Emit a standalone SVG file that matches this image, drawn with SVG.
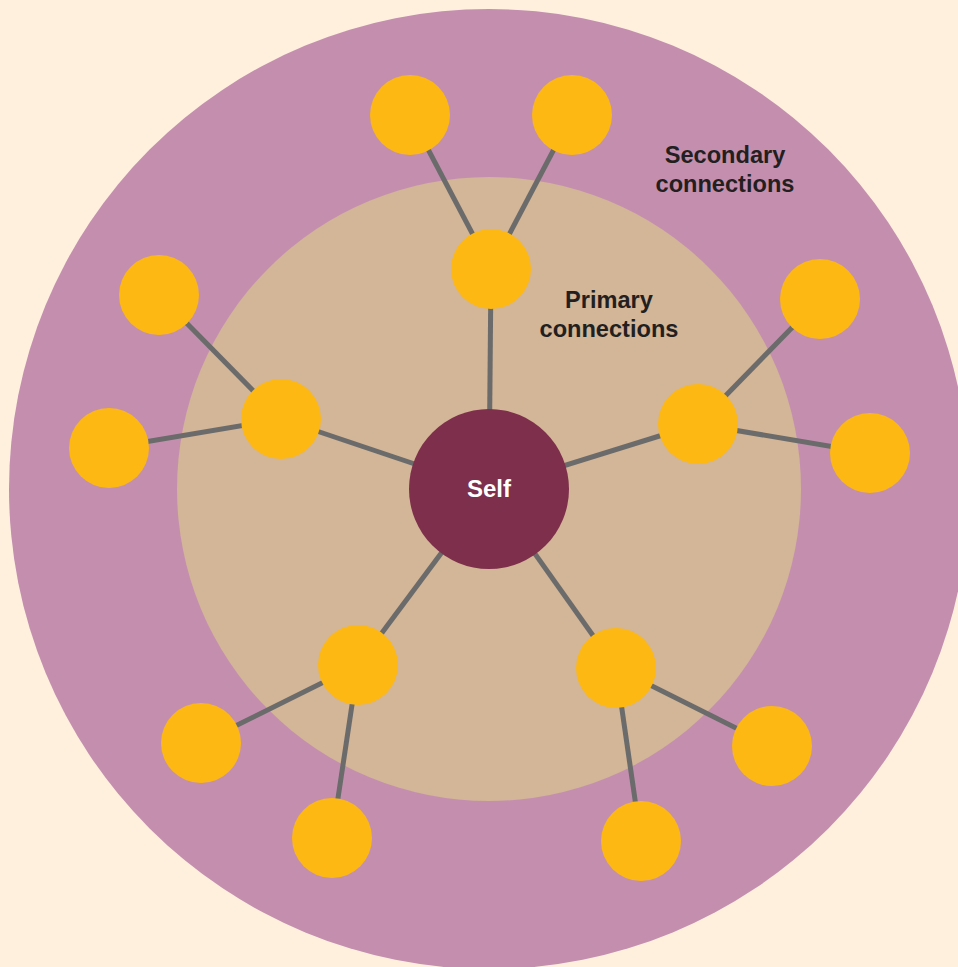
<svg xmlns="http://www.w3.org/2000/svg" width="958" height="967" viewBox="0 0 958 967">
<style>
.conn line{stroke:#6b6b6b;stroke-width:5}
.node{fill:#fdb813}
.lbl{font-family:"Liberation Sans",Arial,sans-serif;font-weight:bold;font-size:23.6px;fill:#231f20;text-anchor:middle}
</style>
<rect width="958" height="967" fill="#fff0de"/>
<g id="outer-ring"><circle cx="489" cy="489" r="480" fill="#c48faf"/></g>
<g id="inner-ring"><circle cx="489" cy="489" r="312" fill="#d3b597"/></g>
<g class="conn" id="connectors">
<line x1="489" y1="489" x2="491" y2="269"/>
<line x1="489" y1="489" x2="281" y2="419"/>
<line x1="489" y1="489" x2="698" y2="424"/>
<line x1="489" y1="489" x2="358" y2="665"/>
<line x1="489" y1="489" x2="616" y2="668"/>
<line x1="491" y1="269" x2="410" y2="115"/>
<line x1="491" y1="269" x2="572" y2="115"/>
<line x1="281" y1="419" x2="159" y2="295"/>
<line x1="281" y1="419" x2="109" y2="448"/>
<line x1="698" y1="424" x2="820" y2="299"/>
<line x1="698" y1="424" x2="870" y2="453"/>
<line x1="358" y1="665" x2="201" y2="743"/>
<line x1="358" y1="665" x2="332" y2="838"/>
<line x1="616" y1="668" x2="772" y2="746"/>
<line x1="616" y1="668" x2="641" y2="841"/>
</g>
<g id="self"><circle cx="489" cy="489" r="80" fill="#7d2f4b"/><text x="489" y="497" class="lbl" style="fill:#fff;font-size:24px">Self</text></g>
<g id="p-top"><circle class="node" cx="491" cy="269" r="40"/></g>
<g id="p-left"><circle class="node" cx="281" cy="419" r="40"/></g>
<g id="p-right"><circle class="node" cx="698" cy="424" r="40"/></g>
<g id="p-bl"><circle class="node" cx="358" cy="665" r="40"/></g>
<g id="p-br"><circle class="node" cx="616" cy="668" r="40"/></g>
<g id="s1"><circle class="node" cx="410" cy="115" r="40"/></g>
<g id="s2"><circle class="node" cx="572" cy="115" r="40"/></g>
<g id="s3"><circle class="node" cx="159" cy="295" r="40"/></g>
<g id="s4"><circle class="node" cx="109" cy="448" r="40"/></g>
<g id="s5"><circle class="node" cx="820" cy="299" r="40"/></g>
<g id="s6"><circle class="node" cx="870" cy="453" r="40"/></g>
<g id="s7"><circle class="node" cx="201" cy="743" r="40"/></g>
<g id="s8"><circle class="node" cx="332" cy="838" r="40"/></g>
<g id="s9"><circle class="node" cx="772" cy="746" r="40"/></g>
<g id="s10"><circle class="node" cx="641" cy="841" r="40"/></g>
<g id="label-secondary"><text class="lbl" x="725" y="163">Secondary</text><text class="lbl" x="725" y="192">connections</text></g>
<g id="label-primary"><text class="lbl" x="609" y="308">Primary</text><text class="lbl" x="609" y="337">connections</text></g>
</svg>
